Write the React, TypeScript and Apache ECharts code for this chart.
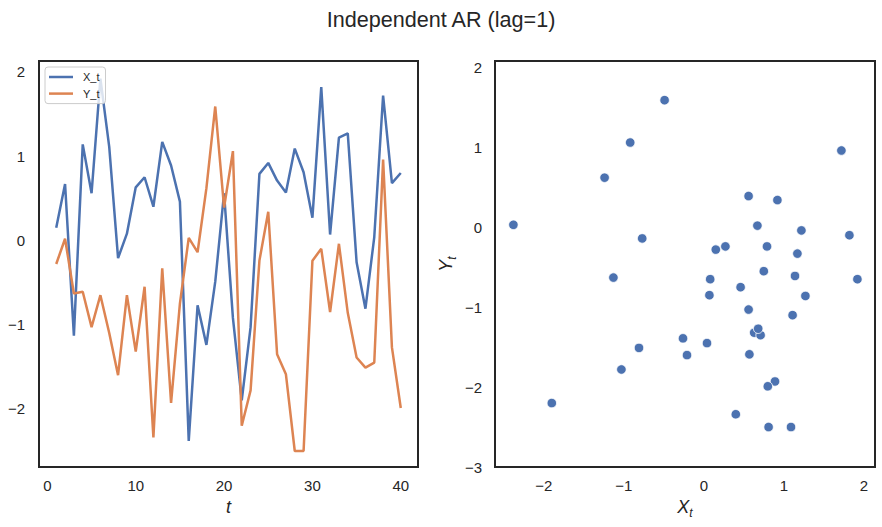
import React, { useEffect, useRef } from "react";
import * as echarts from "echarts";

const tValues = [1, 2, 3, 4, 5, 6, 7, 8, 9, 10, 11, 12, 13, 14, 15, 16, 17, 18, 19, 20, 21, 22, 23, 24, 25, 26, 27, 28, 29, 30, 31, 32, 33, 34, 35, 36, 37, 38, 39, 40];
const xSeries = [0.15, 0.67, -1.13, 1.14, 0.56, 1.92, 1.11, -0.21, 0.08, 0.63, 0.75, 0.40, 1.17, 0.89, 0.46, -2.38, -0.77, -1.24, -0.49, 0.56, -0.92, -1.90, -1.03, 0.79, 0.92, 0.71, 0.57, 1.09, 0.81, 0.27, 1.82, 0.07, 1.22, 1.27, -0.26, -0.81, 0.04, 1.72, 0.68, 0.80];
const ySeries = [-0.28, 0.02, -0.63, -0.61, -1.03, -0.65, -1.10, -1.60, -0.65, -1.32, -0.55, -2.34, -0.33, -1.93, -0.75, 0.03, -0.14, 0.62, 1.59, 0.39, 1.06, -2.20, -1.78, -0.24, 0.34, -1.35, -1.59, -2.50, -2.50, -0.24, -0.10, -0.85, -0.04, -0.86, -1.39, -1.51, -1.45, 0.96, -1.27, -1.99];

const leftXTicks = [0, 10, 20, 30, 40];
const leftYTicks = [-2, -1, 0, 1, 2];
const rightXTicks = [-2, -1, 0, 1, 2];
const rightYTicks = [-3, -2, -1, 0, 1, 2];

const FONT = "'Liberation Sans', Arial, Helvetica, sans-serif";
const INK = "#262626";
const BLUE = "#4c72b0";
const ORANGE = "#dd8452";

const fmt = (v: number) => (v < 0 ? "\u2212" + Math.abs(v) : String(v));

export default function App() {
  const ref = useRef<HTMLDivElement>(null);
  useEffect(() => {
    if (!ref.current) return;
    const chart = echarts.init(ref.current, undefined, { renderer: "svg" });
    const lineX = tValues.map((t, i) => [t, xSeries[i]]);
    const lineY = tValues.map((t, i) => [t, ySeries[i]]);
    const pairs = xSeries.map((x, i) => [x, ySeries[i]]);
    const labelStyle = { color: INK, fontSize: 15, fontFamily: FONT, margin: 11, formatter: fmt };
    const subRich = {
      i: { fontStyle: "italic", fontSize: 18, fontFamily: FONT, color: INK, lineHeight: 24, verticalAlign: "middle" },
      s: { fontStyle: "italic", fontSize: 12, fontFamily: FONT, color: INK, lineHeight: 24, verticalAlign: "bottom" },
    };
    chart.setOption({
      animation: false,
      backgroundColor: "#ffffff",
      title: {
        text: "Independent AR (lag=1)",
        left: "center",
        top: 3,
        textStyle: { fontFamily: FONT, fontSize: 21.6, fontWeight: "normal", color: INK },
      },
      legend: {
        data: ["X_t", "Y_t"],
        orient: "vertical",
        left: 45,
        top: 67,
        icon: "rect",
        itemWidth: 24,
        itemHeight: 2.5,
        itemGap: 4.6,
        padding: [4, 6, 4, 4],
        backgroundColor: "rgba(255,255,255,0.8)",
        borderColor: "#cccccc",
        borderWidth: 1,
        borderRadius: 3,
        textStyle: { fontFamily: FONT, fontSize: 11, color: INK, lineHeight: 12, padding: [0, 0, 0, 5] },
      },
      grid: [
        { left: 39, right: 464, top: 61, bottom: 60, show: true, borderColor: INK, borderWidth: 2, backgroundColor: "transparent" },
        { left: 495, right: 7, top: 61, bottom: 60, show: true, borderColor: INK, borderWidth: 2, backgroundColor: "transparent" },
      ],
      xAxis: [
        {
          type: "value",
          gridIndex: 0,
          min: -0.95,
          max: 41.95,
          axisLine: { show: false },
          axisTick: { show: false },
          splitLine: { show: false },
          axisLabel: { ...labelStyle, customValues: leftXTicks },
          name: "t",
          nameLocation: "middle",
          nameGap: 30,
          nameTextStyle: { fontFamily: FONT, fontSize: 18, fontStyle: "italic", color: INK },
        },
        {
          type: "value",
          gridIndex: 1,
          min: -2.61,
          max: 2.14,
          axisLine: { show: false },
          axisTick: { show: false },
          splitLine: { show: false },
          axisLabel: { ...labelStyle, customValues: rightXTicks },
          name: "{i|X}{s|t}",
          nameLocation: "middle",
          nameGap: 28,
          nameTextStyle: { rich: subRich },
        },
      ],
      yAxis: [
        {
          type: "value",
          gridIndex: 0,
          min: -2.69,
          max: 2.13,
          axisLine: { show: false },
          axisTick: { show: false },
          splitLine: { show: false },
          axisLabel: { ...labelStyle, margin: 14, customValues: leftYTicks },
        },
        {
          type: "value",
          gridIndex: 1,
          min: -3,
          max: 2.08,
          axisLine: { show: false },
          axisTick: { show: false },
          splitLine: { show: false },
          axisLabel: { ...labelStyle, margin: 13, customValues: rightYTicks },
          name: "{i|Y}{s|t}",
          nameLocation: "middle",
          nameGap: 37,
          nameRotate: 90,
          nameTextStyle: { rich: subRich },
        },
      ],
      series: [
        {
          name: "X_t",
          type: "line",
          xAxisIndex: 0,
          yAxisIndex: 0,
          data: lineX,
          symbol: "none",
          lineStyle: { color: BLUE, width: 2.5 },
          itemStyle: { color: BLUE },
          z: 2,
        },
        {
          name: "Y_t",
          type: "line",
          xAxisIndex: 0,
          yAxisIndex: 0,
          data: lineY,
          symbol: "none",
          lineStyle: { color: ORANGE, width: 2.5 },
          itemStyle: { color: ORANGE },
          z: 2,
        },
        {
          name: "pairs",
          type: "scatter",
          xAxisIndex: 1,
          yAxisIndex: 1,
          data: pairs,
          symbolSize: 9.5,
          itemStyle: { color: BLUE, borderColor: "#ffffff", borderWidth: 0.8, opacity: 1 },
        },
      ],
    });
    return () => chart.dispose();
  }, []);
  return (
    <div
      ref={ref}
      style={{ position: "fixed", left: 0, top: 0, width: 882, height: 527, background: "#fff" }}
    />
  );
}
